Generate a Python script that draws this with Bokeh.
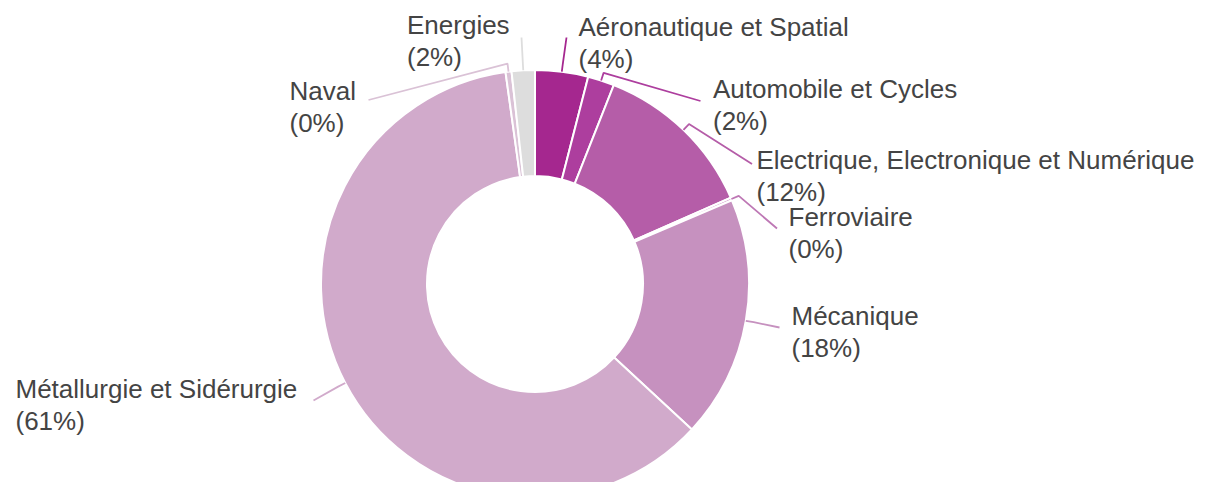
import math
from bokeh.plotting import figure
from bokeh.models import ColumnDataSource, Range1d
from bokeh.core.properties import value
from bokeh.embed import file_html
from bokeh.resources import INLINE

# ---------------- data ----------------
categories = [
    "Aéronautique et Spatial",
    "Automobile et Cycles",
    "Electrique, Electronique et Numérique",
    "Ferroviaire",
    "Mécanique",
    "Métallurgie et Sidérurgie",
    "Naval",
    "Energies",
]
shares = [4.0, 2.0, 12.4, 0.2, 18.3, 60.9, 0.45, 1.75]
colors = ["#A5278F", "#AD3E9E", "#B55DA8", "#BE78B5",
          "#C691BF", "#D1AACB", "#DAC2D6", "#DDDDDD"]

# ---------------- layout (pixel coordinates, origin top-left) ----------------
W, H = 1196, 482
CX, CY = 534.5, 283.5
R_OUT, R_IN = 214, 108
ELBOW = 8
LINE_GAP = 32
TEXT_SHIFT = -10
label_pos = [(578, 36.5), (712.5, 98.5), (756, 169.5), (788, 226.5),
             (791, 325), (15, 398), (289, 100), (406.5, 34.5)]
leader_end = [(566, 37), (700, 100.5), (751.5, 163.5), (776.5, 228),
              (779, 327), (313, 400), (368, 99.5), (521, 37)]


def fy(y):
    return H - y


total = sum(shares)
starts, ends, mids = [], [], []
acc = 0.0
for s in shares:
    a0 = acc / total * 2 * math.pi
    acc += s
    a1 = acc / total * 2 * math.pi
    starts.append(math.pi / 2 - a0)
    ends.append(math.pi / 2 - a1)
    mids.append((a0 + a1) / 2)

src = ColumnDataSource(dict(
    x=[CX] * len(shares), y=[fy(CY)] * len(shares),
    start=starts, end=ends, color=colors, cat=categories,
))

p = figure(width=W, height=H, output_backend="svg", toolbar_location=None,
           x_range=Range1d(0, W), y_range=Range1d(0, H),
           x_axis_location=None, y_axis_location=None, min_border=0,
           outline_line_color=None, background_fill_color="white",
           border_fill_color="white")
p.grid.visible = False

p.annular_wedge(x="x", y="y", inner_radius=R_IN, outer_radius=R_OUT,
                start_angle="start", end_angle="end", direction="clock",
                fill_color="color", line_color="white", line_width=2, source=src)

# leader lines
xs, ys = [], []
for m, (ex, ey) in zip(mids, leader_end):
    sx = CX + R_OUT * math.sin(m)
    sy = CY - R_OUT * math.cos(m)
    bx = CX + (R_OUT + ELBOW) * math.sin(m)
    by = CY - (R_OUT + ELBOW) * math.cos(m)
    xs.append([sx, bx, ex])
    ys.append([fy(sy), fy(by), fy(ey)])
p.multi_line(xs=xs, ys=ys, line_color=colors, line_width=1.8)

# labels
names_x = [lp[0] for lp in label_pos]
names_y = [fy(lp[1] + TEXT_SHIFT) for lp in label_pos]
pct_y = [fy(lp[1] + LINE_GAP + TEXT_SHIFT) for lp in label_pos]
pct_txt = [f"({round(s)}%)" for s in shares]

common = dict(text_font=value("Liberation Sans"), text_font_size="26px",
              text_color="#444444", text_align="left", text_baseline="alphabetic")
p.text(x=names_x, y=names_y, text=categories, **common)
p.text(x=names_x, y=pct_y, text=pct_txt, **common)

open("out.html", "w").write(file_html(p, INLINE))
